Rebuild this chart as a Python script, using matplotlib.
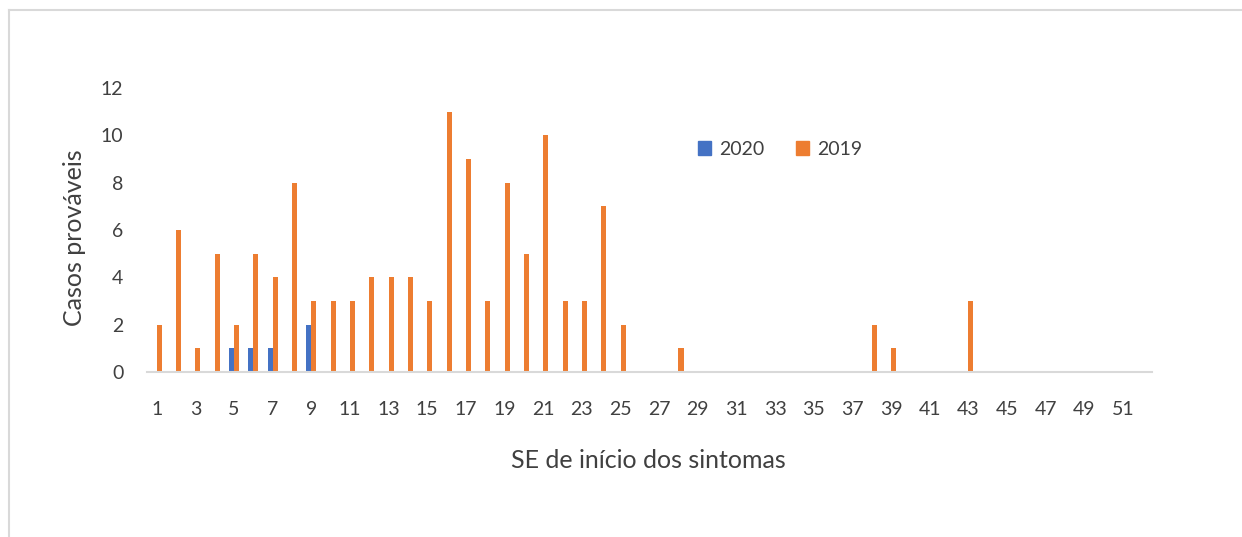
import matplotlib.pyplot as plt
from matplotlib.lines import Line2D
from matplotlib.patches import Patch
import numpy as np

plt.rcParams['font.family'] = ['Lato', 'DejaVu Sans']

# ---- Data ----
weeks = list(range(1, 53))
cases_2020 = {5: 1, 6: 1, 7: 1, 9: 2}
cases_2019 = {1: 2, 2: 6, 3: 1, 4: 5, 5: 2, 6: 5, 7: 4, 8: 8, 9: 3, 10: 3,
              11: 3, 12: 4, 13: 4, 14: 4, 15: 3, 16: 11, 17: 9, 18: 3, 19: 8,
              20: 5, 21: 10, 22: 3, 23: 3, 24: 7, 25: 2, 28: 1, 38: 2, 39: 1,
              43: 3}
tick_weeks = list(range(1, 52, 2))

vals_2020 = [cases_2020.get(w, 0) for w in weeks]
vals_2019 = [cases_2019.get(w, 0) for w in weeks]

text_color = "#404040"
blue = "#4472C4"
orange = "#ED7D31"

fig = plt.figure(figsize=(12.42, 5.37), dpi=100)
ax = fig.add_axes([147 / 1242, 1 - 372 / 537, 1005 / 1242, 284 / 537])

x = np.array(weeks)
w = 0.26
ax.bar(x - w / 2, vals_2020, width=w, color=blue, label="2020")
ax.bar(x + w / 2, vals_2019, width=w, color=orange, label="2019")

# ---- Axes ----
ax.set_xlim(0.5, 52.5)
ax.set_ylim(0, 12)
ax.set_yticks(range(0, 13, 2))
ax.set_xticks(tick_weeks)
ax.set_xticklabels([str(t) for t in tick_weeks])
ax.tick_params(axis="both", length=0, labelsize=14, colors=text_color)
ax.tick_params(axis="x", pad=21)
ax.tick_params(axis="y", pad=17)
for s in ["top", "right", "left"]:
    ax.spines[s].set_visible(False)
ax.spines["bottom"].set_color("#d9d9d9")
ax.spines["bottom"].set_linewidth(1.5)

# ---- Labels ----
fig.text(75 / 1242, 1 - 238 / 537, "Casos prováveis", rotation=90,
         ha="center", va="center", fontsize=18, color=text_color)
fig.text(648 / 1242, 1 - 460 / 537, "SE de início dos sintomas",
         ha="center", va="center", fontsize=18, color=text_color)

# ---- Legend ----
handles = [Patch(color=blue, label="2020"), Patch(color=orange, label="2019")]
fig.legend(handles=handles, ncol=2, loc="center",
           bbox_to_anchor=(780 / 1242, 1 - 149.5 / 537), frameon=False,
           handlelength=0.7, handleheight=0.7, handletextpad=0.4,
           columnspacing=1.6, fontsize=14, labelcolor=text_color)

# ---- Border ----
fig.add_artist(Line2D([9 / 1242, 9 / 1242], [0, 1 - 10 / 537],
                      color="#d9d9d9", lw=1.5))
fig.add_artist(Line2D([9 / 1242, 1], [1 - 10 / 537, 1 - 10 / 537],
                      color="#d9d9d9", lw=1.5))

fig.savefig("out.png", dpi=100, facecolor="white")
